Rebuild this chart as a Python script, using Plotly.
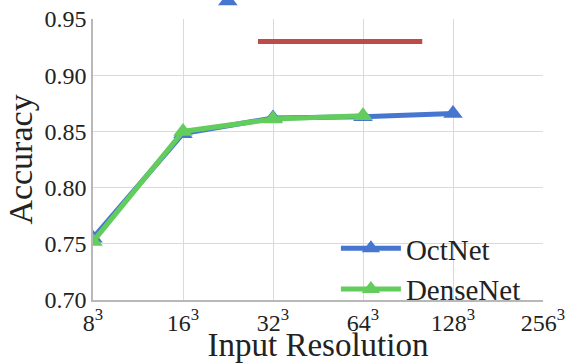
import plotly.graph_objects as go

resolutions = [8, 16, 32, 64, 128]
octnet_acc = [0.755, 0.848, 0.862, 0.863, 0.866]
densenet_res = [8, 16, 32, 64]
densenet_acc = [0.752, 0.850, 0.861, 0.864]

# partially visible elements from cropped source figure
red_x = [28.5, 101]
red_y = [0.930, 0.930]
stray_x = [22.6]
stray_y = [0.966]

tick_vals = [8, 16, 32, 64, 128, 256]
tick_text = [f"{v}<sup>3</sup>" for v in tick_vals]
y_ticks = [0.70, 0.75, 0.80, 0.85, 0.90, 0.95]

blue = "#4676d0"
green = "#62cc5c"
red = "#bf4b48"
font = "Liberation Serif"

H, W = 363, 566
top_px, bottom_margin = 19, 63
inner_h = H - bottom_margin
main_frac = (inner_h - top_px) / inner_h
y_lo, y_hi = 0.70, 0.95
y2_hi = y_lo + (y_hi - y_lo) / main_frac
x_range = [0.90309, 2.40824]

fig = go.Figure()
fig.add_trace(go.Scatter(x=red_x, y=red_y, mode="lines", line=dict(color=red, width=5),
                         showlegend=False, hoverinfo="skip"))
fig.add_trace(go.Scatter(x=resolutions, y=octnet_acc, mode="lines+markers", name="OctNet",
                         line=dict(color=blue, width=5),
                         marker=dict(symbol="triangle-up", size=17, color=blue)))
fig.add_trace(go.Scatter(x=densenet_res, y=densenet_acc, mode="lines+markers", name="DenseNet",
                         line=dict(color=green, width=5),
                         marker=dict(symbol="triangle-up", size=17, color=green)))
fig.add_trace(go.Scatter(x=stray_x, y=stray_y, mode="markers", cliponaxis=False,
                         xaxis="x2", yaxis="y2",
                         marker=dict(symbol="triangle-up", size=17, color=blue),
                         showlegend=False, hoverinfo="skip"))

fig.update_layout(
    width=W, height=H,
    margin=dict(l=93, r=23, t=0, b=bottom_margin, autoexpand=False),
    paper_bgcolor="white", plot_bgcolor="rgba(0,0,0,0)",
    font=dict(family=font, color="#222222"),
    legend=dict(x=0.962, y=-0.05, xanchor="right", yanchor="bottom",
                bgcolor="rgba(0,0,0,0)", font=dict(size=29, family=font, color="#222222"),
                tracegroupgap=0, itemwidth=60),
    xaxis=dict(type="log", range=x_range, tickvals=tick_vals, ticktext=tick_text,
               showgrid=True, gridcolor="#dadada", gridwidth=1.2, automargin=False,
               showline=True, linecolor="#b8b8b8", linewidth=1.5,
               ticks="", tickfont=dict(size=24, family=font),
               title=dict(text="Input Resolution", font=dict(size=33, family=font), standoff=4),
               zeroline=False),
    yaxis=dict(range=[y_lo, y_hi], domain=[0, main_frac], tickvals=y_ticks, tickformat=".2f",
               showgrid=True, gridcolor="#dadada", gridwidth=1.2, automargin=False,
               showline=True, linecolor="#b8b8b8", linewidth=1.5,
               ticks="", tickfont=dict(size=24, family=font),
               title=dict(text="Accuracy", font=dict(size=34, family=font), standoff=2),
               zeroline=False),
    xaxis2=dict(type="log", range=x_range, anchor="y2", visible=False, domain=[0, 1]),
    yaxis2=dict(range=[y_lo, y2_hi], anchor="x2", visible=False, domain=[0, 1]),
)

fig.write_html("out.html", config={"displayModeBar": False},
               post_script="document.body.style.margin='0';document.body.style.overflow='hidden';")
